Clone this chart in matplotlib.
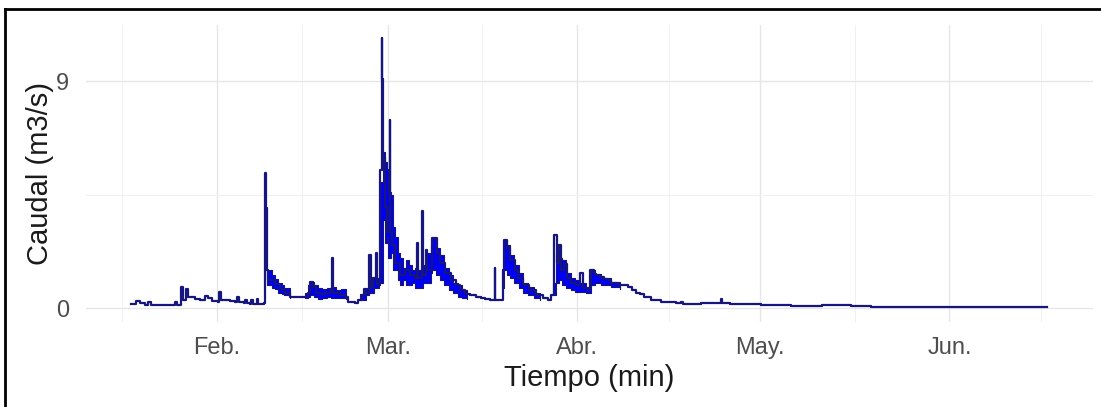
import numpy as np
import pandas as pd
import matplotlib
matplotlib.use("Agg")
from matplotlib import pyplot as plt
import matplotlib.dates as mdates
from matplotlib.lines import Line2D

# caudal: dia del anio (1 ene = 0) y valor en m3/s
dia = [17.0, 17.8, 18.4, 19.2, 19.7, 20.2, 23.3, 24.1, 24.4, 25.1, 25.4, 25.9, 26.2,
       27.4, 28.2, 29.0, 29.5, 30.2, 31.2, 31.4, 31.7, 33.1, 34.0, 34.3, 34.6, 35.4,
       35.6, 35.9, 36.4, 36.6, 36.9, 37.6, 37.7, 38.7, 38.9, 39.0, 39.2, 39.4, 40.5,
       41.3, 42.2, 43.0, 43.8, 44.6, 45.4, 45.9, 46.3, 46.8, 47.3, 47.9, 48.7, 49.6,
       49.8, 50.0, 51.2, 52.2, 52.5, 53.7, 54.2, 54.8, 55.1, 55.5, 56.0, 56.3, 56.6,
       57.1, 57.3, 57.6, 57.8, 58.0, 58.1, 58.3, 58.6, 58.9, 59.3, 59.4, 59.7, 60.2,
       61.0, 61.9, 62.7, 63.5, 63.8, 64.0, 64.6, 64.8, 65.2, 65.5, 66.3, 67.0, 67.6,
       68.4, 69.3, 70.1, 70.9, 71.7, 72.5, 73.4, 74.2, 75.0, 75.8, 76.3, 76.5, 76.6,
       77.5, 77.8, 78.0, 78.5, 79.1, 79.8, 80.4, 81.2, 82.1, 83.2, 84.4, 85.2, 85.7,
       86.2, 86.3, 86.7, 87.0, 87.3, 87.8, 88.3, 89.0, 89.8, 90.5, 91.0, 91.6, 92.2,
       92.8, 93.1, 93.8, 94.4, 95.0, 95.5, 96.2, 96.7, 97.5, 98.3, 99.0, 99.6, 100.3,
       101.0, 102.1, 102.8, 103.7, 105.0, 106.2, 107.0, 107.3, 108.7, 110.3, 113.4,
       113.6, 113.8, 115.0, 116.9, 120.2, 124.6, 125.1, 128.4, 130.0, 130.2, 134.9,
       138.2, 139.9, 151.4, 166.5, 167.0]
caudal = [0.16, 0.29, 0.20, 0.14, 0.25, 0.13, 0.12, 0.22, 0.13, 0.85, 0.30, 0.74, 0.45,
          0.34, 0.32, 0.48, 0.38, 0.27, 0.25, 0.65, 0.30, 0.28, 0.22, 0.45, 0.22, 0.20,
          0.33, 0.20, 0.18, 0.30, 0.18, 0.35, 0.18, 0.20, 5.35, 3.97, 1.50, 1.10, 0.95,
          0.75, 0.60, 0.45, 0.42, 0.42, 0.45, 0.60, 1.04, 0.85, 0.60, 0.55, 0.60, 0.70,
          1.97, 0.60, 0.50, 0.45, 0.22, 0.20, 0.30, 0.50, 0.75, 0.60, 2.10, 0.80, 1.20,
          2.17, 0.95, 1.00, 5.48, 10.70, 9.10, 6.00, 4.00, 3.00, 7.46, 3.00, 2.50, 1.80,
          1.30, 1.50, 1.30, 1.20, 2.57, 1.20, 3.86, 1.30, 2.30, 1.50, 2.77, 2.20, 1.80,
          1.40, 1.10, 0.90, 0.70, 0.55, 0.50, 0.45, 0.40, 0.36, 0.32, 0.30, 1.57, 0.30,
          0.30, 1.50, 2.70, 2.40, 1.90, 1.50, 1.20, 0.90, 0.70, 0.50, 0.38, 0.32, 0.50,
          0.90, 2.90, 1.80, 2.50, 1.50, 1.75, 1.20, 1.00, 0.90, 1.38, 0.80, 0.75, 1.50,
          1.35, 1.30, 1.25, 1.15, 1.12, 1.00, 0.98, 0.90, 0.92, 0.85, 0.70, 0.60, 0.55,
          0.45, 0.33, 0.30, 0.25, 0.22, 0.20, 0.25, 0.18, 0.18, 0.19, 0.20,
          0.34, 0.20, 0.18, 0.15, 0.12, 0.12, 0.07, 0.08, 0.07, 0.12, 0.07,
          0.05, 0.03, 0.03, 0.05, 0.03]

# franjas de oscilacion rapida (min / max), nan separa tramos
dia_banda = [39.2, 40.0, 40.5, 41.0, 41.6, 42.0, 43.0, np.nan,
             45.5, 46.0, 46.3, 46.9, 47.5, 48.2, 49.0, 49.7, 50.5, 51.4, 52.2, np.nan,
             54.5, 55.5, 56.0, 56.8, 57.5, 57.8, 58.2, 58.5, 58.8, 59.1, 59.5, 59.8,
             60.2, 60.6, 61.0, 61.5, 62.0, 62.5, 63.0, 63.5, 64.0, 64.7, 65.5, 66.0,
             66.3, 66.9, 67.5, 68.2, 69.0, 69.7, 70.5, 71.2, 72.0, np.nan,
             77.8, 78.1, 78.5, 79.0, 79.7, 80.5, 81.2, 82.0, 83.0, 84.0, np.nan,
             86.0, 86.5, 87.0, 87.5, 88.2, 89.0, 89.7, 90.5, 91.5, 92.3, 93.0, 94.0,
             95.5, 97.0]
banda_min = [0.9, 0.8, 0.75, 0.6, 0.55, 0.5, 0.4, np.nan,
             0.4, 0.45, 0.5, 0.45, 0.35, 0.4, 0.45, 0.4, 0.4, 0.4, 0.35, np.nan,
             0.3, 0.5, 0.6, 0.8, 0.9, 1.0, 3.5, 2.6, 2.8, 2.0, 2.2, 1.5,
             1.5, 1.1, 0.9, 1.1, 0.9, 0.9, 1.0, 0.8, 0.8, 1.0, 1.0, 1.4,
             1.5, 1.3, 1.1, 0.9, 0.7, 0.6, 0.45, 0.4, 0.35, np.nan,
             0.8, 1.5, 1.3, 1.2, 1.0, 0.8, 0.6, 0.5, 0.4, 0.3, np.nan,
             0.5, 1.0, 1.1, 0.9, 0.8, 0.7, 0.65, 0.65, 0.6, 0.9, 1.0, 0.9,
             0.85, 0.75]
banda_max = [1.5, 1.3, 1.15, 1.0, 0.9, 0.8, 0.55, np.nan,
             0.6, 0.9, 1.04, 0.9, 0.8, 0.75, 0.8, 0.85, 0.7, 0.75, 0.6, np.nan,
             0.55, 0.8, 1.1, 1.2, 1.3, 5.0, 6.2, 5.8, 5.5, 4.6, 4.5, 3.2,
             2.8, 2.2, 2.0, 1.6, 1.9, 1.7, 1.5, 1.6, 1.5, 1.7, 2.2, 2.5,
             2.77, 2.4, 2.1, 1.6, 1.3, 1.0, 0.9, 0.7, 0.6, np.nan,
             1.6, 2.7, 2.5, 2.1, 1.7, 1.4, 1.0, 0.85, 0.6, 0.5, np.nan,
             1.0, 2.2, 2.0, 1.9, 1.4, 1.2, 1.1, 1.0, 0.85, 1.5, 1.35, 1.2,
             1.05, 0.95]

meses = ['Feb.', 'Mar.', 'Abr.', 'May.', 'Jun.']

base = mdates.date2num(pd.Timestamp('2019-01-01').to_pydatetime())
x_linea = base + np.array(dia)
x_banda = base + np.array(dia_banda)

plt.rcParams['font.family'] = ['Liberation Sans', 'DejaVu Sans']

fig = plt.figure(figsize=(11.01, 4.07), dpi=100)
ax = fig.add_axes([0.0777, 0.210, 0.9150, 0.729])

ax.fill_between(x_banda, banda_min, banda_max, step='post', color='#0000F5',
                linewidth=0.8, edgecolor='#16167e', zorder=2)
ax.plot(x_linea, caudal, drawstyle='steps-post', color='#16167e', linewidth=1.6, zorder=3)

pad = (x_linea[-1] - x_linea[0]) * 0.05
ax.set_xlim(x_linea[0] - pad, x_linea[-1] + pad)
ax.set_ylim(-0.535, 11.235)

todos = [mdates.date2num(pd.Timestamp('2019-%02d-01' % m).to_pydatetime()) for m in range(1, 8)]
mayores = todos[1:6]
menores = [(todos[i] + todos[i + 1]) / 2 for i in range(len(todos) - 1)]
ax.set_xticks(mayores)
ax.set_xticklabels(meses)
ax.set_xticks(menores, minor=True)
ax.set_yticks([0, 9])
ax.set_yticklabels(['0', '9'])
ax.set_yticks([4.5], minor=True)

ax.grid(which='major', color='#E6E6E6', linewidth=1.0)
ax.grid(which='minor', color='#F0F0F0', linewidth=0.7)
ax.set_axisbelow(True)
for s in ax.spines.values():
    s.set_visible(False)
ax.tick_params(which='both', length=0)
ax.tick_params(axis='x', labelsize=17, labelcolor='#4D4D4D', pad=11)
ax.tick_params(axis='y', labelsize=17, labelcolor='#4D4D4D', pad=12)

ax.set_xlabel('Tiempo (min)', fontsize=21, color='#1A1A1A', labelpad=4)
ax.set_ylabel('Caudal (m3/s)', fontsize=21, color='#1A1A1A', labelpad=1)

# marco negro (solo izquierda y arriba visibles)
fig.add_artist(Line2D([5 / 1101, 5 / 1101], [0, 1 - 9 / 407], transform=fig.transFigure,
                      color='black', linewidth=2))
fig.add_artist(Line2D([5 / 1101, 1], [1 - 9 / 407, 1 - 9 / 407], transform=fig.transFigure,
                      color='black', linewidth=2))

plt.savefig('out.png', dpi=100)
